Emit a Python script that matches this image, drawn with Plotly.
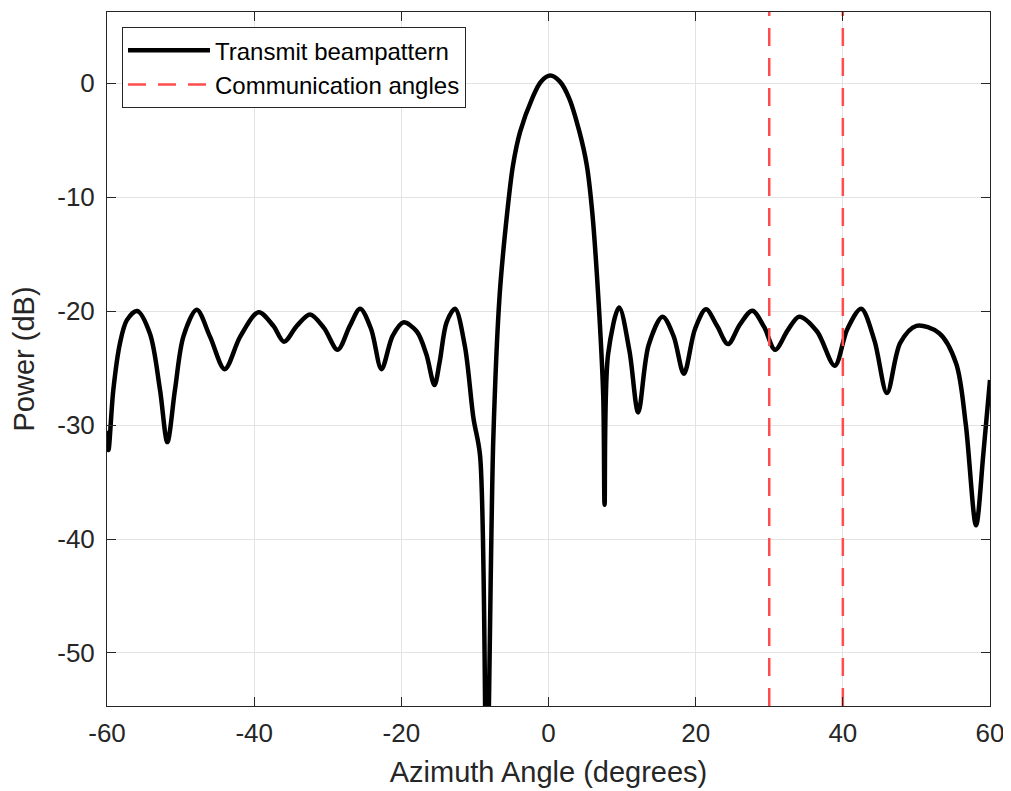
import plotly.graph_objects as go

# Beampattern samples (azimuth deg, power dB)
azimuth_deg = [-60.0, -59.8, -59.14, -58.23, -57.3, -55.9, -54.16, -52.8, -51.8, -50.76, -49.6,
               -47.8, -46.0, -44.0, -41.9, -39.4, -37.4, -35.95, -34.2, -32.4, -30.5, -28.65,
               -27.0, -25.6, -24.1, -22.7, -21.2, -19.74, -17.9, -16.6, -15.5, -14.8, -13.85,
               -12.7, -11.36, -10.2, -9.3, -8.4, -7.5, -6.65, -5.6, -4.82, -3.85, -2.21, -1.03,
               0.25, 1.55, 2.81, 4.2, 5.2, 5.94, 6.76, 7.44, 7.62, 8.1, 9.6, 11.0, 12.19, 13.6,
               15.5, 17.0, 18.4, 19.9, 21.4, 22.9, 24.4, 26.0, 27.7, 29.3, 30.8, 32.5, 34.07,
               36.5, 38.9, 40.6, 42.5, 44.3, 46.0, 47.8, 50.0, 53.1, 55.4, 56.7, 58.1, 59.1, 60.0]
power_db = [-30.5, -32.2, -26.9, -22.8, -20.8, -20.0, -22.0, -26.9, -31.5, -26.9, -22.2,
            -19.9, -22.25, -25.1, -22.25, -20.1, -21.3, -22.7, -21.3, -20.3, -21.5, -23.4,
            -21.3, -19.8, -21.6, -25.1, -22.2, -21.0, -21.8, -23.8, -26.5, -24.5, -21.0,
            -19.8, -23.1, -29.4, -32.7, -62.0, -31.2, -18.7, -11.3, -7.2, -4.27, -1.34, 0.12,
            0.65, 0.12, -1.34, -4.27, -7.2, -11.3, -18.7, -27.5, -37.0, -23.8, -19.7, -23.5, -28.9, -23.0,
            -20.5, -22.2, -25.5, -21.6, -19.85, -21.3, -22.9, -21.2, -19.97, -21.4, -23.4, -21.7, -20.5,
            -21.8, -24.8, -21.6, -19.8, -22.6, -27.2, -22.8, -21.3, -21.95, -24.6, -29.9, -38.8, -32.5, -26.05]

comm_angles = [30, 40]

x_range = [-60, 60]
y_range = [-54.65, 6.23]
x_ticks = [-60, -40, -20, 0, 20, 40, 60]
x_ticktext = ["-60", "-40", "-20", "0", "20", "40", "60"]
y_ticks = [-50, -40, -30, -20, -10, 0]
y_ticktext = ["-50", "-40", "-30", "-20", "-10", "0"]

fig = go.Figure()
fig.add_trace(go.Scatter(
    x=azimuth_deg, y=power_db, mode="lines", name="Transmit beampattern",
    line=dict(color="black", width=4.5, shape="spline", smoothing=0.9),
))

vx, vy = [], []
for a in comm_angles:
    vx += [a, a, None]
    vy += [y_range[0], y_range[1], None]
fig.add_trace(go.Scatter(
    x=vx, y=vy, mode="lines", name="Communication angles",
    line=dict(color="#ff4d4d", width=2.5, dash="18px,12px"),
))

FONT = "Liberation Sans, Arial, sans-serif"
axis_common = dict(
    showline=True, linecolor="#262626", linewidth=1, mirror="ticks",
    ticks="inside", ticklen=9, tickcolor="#262626", tickwidth=1,
    showgrid=True, gridcolor="#e3e3e3", gridwidth=1, zeroline=False,
    tickfont=dict(family=FONT, size=26, color="#262626"),
)

# page body has an 8px margin, so the figure is sized to fill the 1011x791 window
fig.update_layout(
    width=1003, height=783,
    margin=dict(l=99, r=21, t=4, b=85),
    paper_bgcolor="white", plot_bgcolor="white",
    font=dict(family=FONT, color="#262626"),
    xaxis=dict(range=x_range, tickvals=x_ticks, ticktext=x_ticktext, ticklabelstandoff=4,
               **axis_common,
               title=dict(text="Azimuth Angle (degrees)", font=dict(size=29, color="#262626"), standoff=14)),
    yaxis=dict(range=y_range, tickvals=y_ticks, ticktext=y_ticktext, ticklabelstandoff=6,
               **axis_common,
               title=dict(text="Power (dB)", font=dict(size=29, color="#262626"), standoff=16)),
    showlegend=True,
    legend=dict(x=0.017, y=0.978, xanchor="left", yanchor="top",
                bgcolor="white", bordercolor="#262626", borderwidth=1,
                font=dict(size=24, color="black"), itemwidth=82,
                tracegroupgap=0),
)

fig.write_html("out.html")
